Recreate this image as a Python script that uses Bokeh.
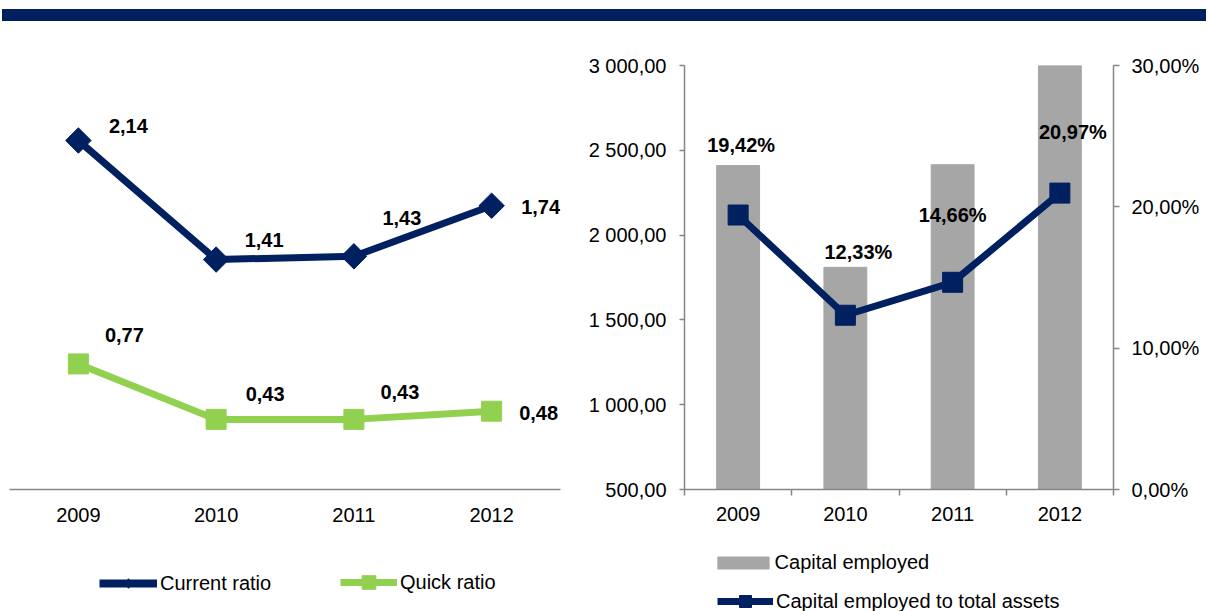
import math
from bokeh.plotting import figure
from bokeh.models import (FactorRange, Range1d, LinearAxis, FixedTicker, Legend,
                          LegendItem, Div)
from bokeh.layouts import column, row
from bokeh.embed import file_html
from bokeh.resources import INLINE
from bokeh.core.properties import value

# ---------------- data ----------------
years = ["2009", "2010", "2011", "2012"]
current_ratio = [2.14, 1.41, 1.43, 1.74]
quick_ratio = [0.77, 0.43, 0.43, 0.48]
capital_employed = [2410, 1810, 2415, 3000]
ce_to_total_assets = [19.42, 12.33, 14.66, 20.97]   # percent

ce_ticks = [500, 1000, 1500, 2000, 2500, 3000]
ce_tick_labels = ["500,00", "1 000,00", "1 500,00", "2 000,00", "2 500,00", "3 000,00"]
pct_ticks = [0, 10, 20, 30]
pct_tick_labels = ["0,00%", "10,00%", "20,00%", "30,00%"]

# ---------------- label offsets (screen px) ----------------
cur_dx = [50, 48, 48, 49]
cur_dy = [-15, -20, -38, 1]
quick_dx = [46, 49, 46, 47]
quick_dy = [-29, -25, -27, 2]
ce_dx = [3, 13, 0, 13]
ce_dy = [-70, -63, -67, -61]

NAVY = "#002060"
GREEN = "#92D050"
BAR = "#A6A6A6"
AXIS = "#868686"
FONT = "Liberation Sans"
FS = "20px"


def fmt(v, suffix=""):
    return f"{v:.2f}".replace(".", ",") + suffix


def style_fig(p):
    p.xgrid.grid_line_color = None
    p.ygrid.grid_line_color = None
    p.outline_line_color = None
    p.background_fill_color = "white"
    p.border_fill_color = "white"


def style_axis(ax):
    ax.axis_line_color = AXIS
    ax.axis_line_width = 1.5
    ax.major_tick_line_color = AXIS
    ax.major_tick_line_width = 1.5
    ax.minor_tick_line_color = None
    ax.major_label_text_font = FONT
    ax.major_label_text_font_size = FS
    ax.major_label_text_color = "black"


def mk_legend(items, loc, gw, gh, standoff=3):
    return Legend(items=items, location=loc, glyph_width=gw, glyph_height=gh,
                  label_standoff=standoff, padding=0, margin=0, spacing=0,
                  border_line_color=None, background_fill_alpha=0,
                  inactive_fill_alpha=0,
                  label_text_font=FONT, label_text_font_size=FS,
                  label_text_color="black", orientation="vertical")


def legend_fig(width, left, right):
    f = figure(width=width, height=76, min_border_left=left, min_border_right=right,
               min_border_top=0, min_border_bottom=0, title=None,
               x_range=Range1d(0, 1), y_range=Range1d(0, 1),
               toolbar_location=None, output_backend="svg",
               x_axis_location=None, y_axis_location=None)
    style_fig(f)
    return f


# ---------------- band ----------------
band = Div(text="", width=1204, height=12, margin=(9, 0, 0, 2),
           styles={"background-color": NAVY})

# ---------------- left chart ----------------
p1 = figure(x_range=FactorRange(*years), y_range=Range1d(0, 2.6),
            width=583, height=514, min_border_left=9, min_border_right=23,
            min_border_top=44, min_border_bottom=46, title=None,
            toolbar_location=None, output_backend="svg", y_axis_location=None)
style_fig(p1)
style_axis(p1.xaxis[0])
p1.xaxis.major_tick_line_color = None
p1.xaxis.major_tick_out = 0
p1.xaxis.major_tick_in = 0
p1.xaxis.major_label_standoff = 18

p1.line(years, current_ratio, line_width=7, color=NAVY)
p1.scatter(years, current_ratio, marker="square", angle=math.pi / 4, size=18, color=NAVY)
p1.line(years, quick_ratio, line_width=7, color=GREEN)
p1.scatter(years, quick_ratio, marker="square", size=20, color=GREEN)

p1.text(years, current_ratio, text=[fmt(v) for v in current_ratio],
        x_offset=cur_dx, y_offset=cur_dy, text_align="center",
        text_baseline="middle", text_font=value(FONT), text_font_size=FS,
        text_font_style="bold", text_color="black")
p1.text(years, quick_ratio, text=[fmt(v) for v in quick_ratio],
        x_offset=quick_dx, y_offset=quick_dy, text_align="center",
        text_baseline="middle", text_font=value(FONT), text_font_size=FS,
        text_font_style="bold", text_color="black")

# legend strip for the left chart (legend keys use hidden copies of the series)
idx = list(range(len(years)))
lg1 = legend_fig(583, 9, 23)
k_cur_l = lg1.line(idx, current_ratio, line_width=8, color=NAVY, visible=False)
k_cur_s = lg1.scatter(idx, current_ratio, marker="diamond", size=10, color=NAVY,
                      visible=False)
k_q_l = lg1.line(idx, quick_ratio, line_width=7, color=GREEN, visible=False)
k_q_s = lg1.scatter(idx, quick_ratio, marker="square", size=14, color=GREEN,
                    visible=False)
lg1.add_layout(mk_legend([LegendItem(label="Current ratio", renderers=[k_cur_l, k_cur_s])],
                         (90, 16), 58, 24))
lg1.add_layout(mk_legend([LegendItem(label="Quick ratio", renderers=[k_q_l, k_q_s])],
                         (331, 12), 57, 34))

# ---------------- right chart ----------------
xs = [i + 0.5 for i in range(len(years))]
p2 = figure(x_range=Range1d(0, len(years)), y_range=Range1d(500, 3000),
            width=625, height=514, min_border_left=101, min_border_right=95,
            min_border_top=44, min_border_bottom=46, title=None,
            toolbar_location=None, output_backend="svg")
p2.extra_y_ranges = {"pct": Range1d(0, 30)}
style_fig(p2)

yax = p2.yaxis[0]
style_axis(yax)
yax.ticker = FixedTicker(ticks=ce_ticks)
yax.major_label_overrides = dict(zip(ce_ticks, ce_tick_labels))
yax.major_tick_out = 5
yax.major_tick_in = 0
yax.major_label_standoff = 13

xax = p2.xaxis[0]
style_axis(xax)
xax.ticker = FixedTicker(ticks=xs, minor_ticks=list(range(len(years) + 1)))
xax.major_label_overrides = dict(zip(xs, years))
xax.major_tick_line_color = None
xax.major_tick_out = 0
xax.major_tick_in = 0
xax.minor_tick_line_color = AXIS
xax.minor_tick_line_width = 1.5
xax.minor_tick_out = 6
xax.minor_tick_in = 0
xax.major_label_standoff = 11

rax = LinearAxis(y_range_name="pct", ticker=FixedTicker(ticks=pct_ticks),
                 major_label_overrides=dict(zip(pct_ticks, pct_tick_labels)))
style_axis(rax)
rax.major_tick_out = 6
rax.major_tick_in = 0
rax.major_label_standoff = 12
p2.add_layout(rax, "right")

p2.vbar(x=xs, top=capital_employed, bottom=0, width=0.4, color=BAR)
p2.line(xs, ce_to_total_assets, y_range_name="pct", line_width=7, color=NAVY)
p2.scatter(xs, ce_to_total_assets, y_range_name="pct", marker="square",
           size=20, color=NAVY)
p2.text(xs, ce_to_total_assets, y_range_name="pct",
        text=[fmt(v, "%") for v in ce_to_total_assets],
        x_offset=ce_dx, y_offset=ce_dy, text_align="center",
        text_baseline="middle", text_font=value(FONT), text_font_size=FS,
        text_font_style="bold", text_color="black")

# legend strip for the right chart (legend keys use hidden copies of the series)
lg2 = legend_fig(625, 101, 95)
k_bar = lg2.vbar(x=xs, top=capital_employed, width=0.4, color=BAR, visible=False)
k_ce_l = lg2.line(xs, ce_to_total_assets, line_width=7, color=NAVY, visible=False)
k_ce_s = lg2.scatter(xs, ce_to_total_assets, marker="square", size=12, color=NAVY,
                     visible=False)
lg2.add_layout(mk_legend([LegendItem(label="Capital employed", renderers=[k_bar])],
                         (26.6, 37), 64, 15, standoff=0))
lg2.add_layout(mk_legend([LegendItem(label="Capital employed to total assets",
                                     renderers=[k_ce_l, k_ce_s])],
                         (33, -5), 56, 30))

layout = column(band, row(p1, p2, spacing=0), row(lg1, lg2, spacing=0), spacing=0)
open("out.html", "w").write(file_html(layout, INLINE))
